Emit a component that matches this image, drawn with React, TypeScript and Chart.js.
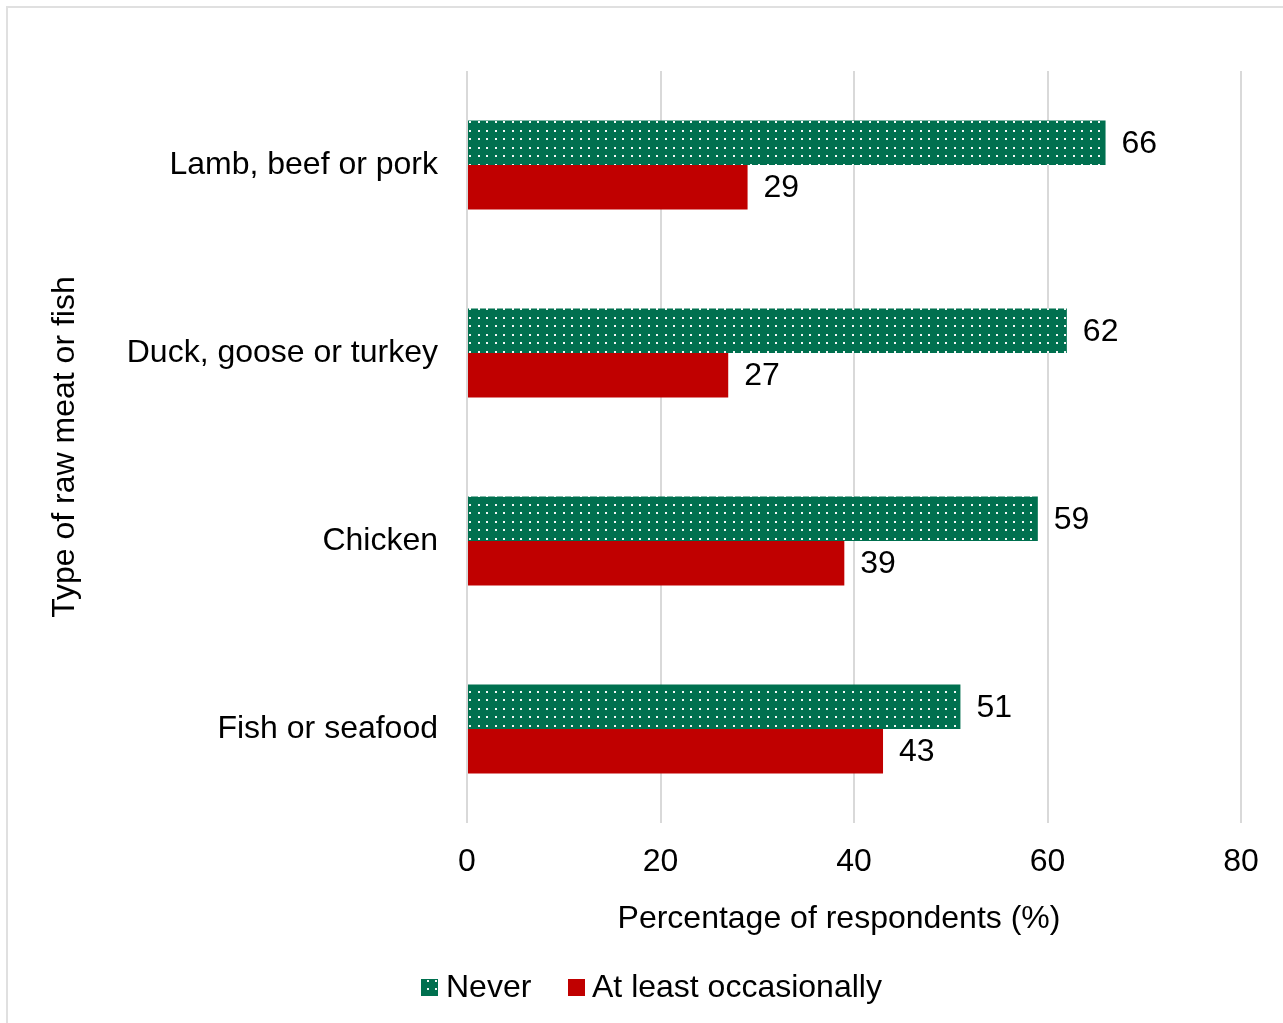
import React, { useEffect, useRef } from "react";
import { Chart, registerables } from "chart.js";

Chart.register(...registerables);

const categories = ["Lamb, beef or pork", "Duck, goose or turkey", "Chicken", "Fish or seafood"];
const neverValues = [66, 62, 59, 51];
const occasionalValues = [29, 27, 39, 43];
const seriesNames = ["Never", "At least occasionally"];
const xTicks = [0, 20, 40, 60, 80];
const xTitle = "Percentage of respondents (%)";
const yTitle = "Type of raw meat or fish";

const GREEN = "#00704F";
const RED = "#C00000";
const FONT = "'Liberation Sans', Arial, sans-serif";
const FS = 32;

function makePattern(ctx: CanvasRenderingContext2D): CanvasPattern | string {
  const c = document.createElement("canvas");
  c.width = 17;
  c.height = 17;
  const p = c.getContext("2d");
  if (!p) return GREEN;
  p.fillStyle = GREEN;
  p.fillRect(0, 0, 17, 17);
  p.fillStyle = "rgba(255,255,255,0.95)";
  const dots = [
    [2, 2],
    [10, 2],
    [2, 11],
    [10, 11],
  ];
  dots.forEach(([x, y]) => p.fillRect(x, y, 2, 2));
  return ctx.createPattern(c, "repeat") || GREEN;
}

export default function App() {
  const ref = useRef<HTMLCanvasElement | null>(null);

  useEffect(() => {
    const canvas = ref.current;
    if (!canvas) return;
    const ctx = canvas.getContext("2d");
    if (!ctx) return;
    const pattern = makePattern(ctx);

    const extras = {
      id: "extras",
      afterDatasetsDraw(chart: any) {
        const c = chart.ctx;
        c.save();
        c.font = `${FS}px ${FONT}`;
        c.fillStyle = "#000";
        c.textAlign = "left";
        c.textBaseline = "middle";
        chart.data.datasets.forEach((ds: any, di: number) => {
          const meta = chart.getDatasetMeta(di);
          meta.data.forEach((el: any, i: number) => {
            c.fillText(String(ds.data[i]), el.x + 16, el.y + 1);
          });
        });
        c.restore();
      },
      afterDraw(chart: any) {
        const c = chart.ctx;
        c.save();
        c.font = `${FS}px ${FONT}`;
        c.fillStyle = "#000";
        c.textBaseline = "middle";
        // x title
        c.textAlign = "center";
        c.fillText(xTitle, 839, 919);
        // y title
        c.save();
        c.translate(65, 447);
        c.rotate(-Math.PI / 2);
        c.fillText(yTitle, 0, 0);
        c.restore();
        // legend
        c.textAlign = "left";
        c.fillStyle = pattern as any;
        c.fillRect(421, 979, 17, 17);
        c.fillStyle = "#000";
        c.fillText(seriesNames[0], 446, 988);
        c.fillStyle = RED;
        c.fillRect(568, 979, 17, 17);
        c.fillStyle = "#000";
        c.fillText(seriesNames[1], 592, 988);
        c.restore();
      },
    };

    const chart = new Chart(ctx, {
      type: "bar",
      data: {
        labels: categories,
        datasets: [
          {
            label: seriesNames[0],
            data: neverValues,
            backgroundColor: pattern as any,
            borderWidth: 0,
            categoryPercentage: 0.474,
            barPercentage: 1,
          },
          {
            label: seriesNames[1],
            data: occasionalValues,
            backgroundColor: RED,
            borderWidth: 0,
            categoryPercentage: 0.474,
            barPercentage: 1,
          },
        ],
      },
      options: {
        indexAxis: "y",
        animation: false,
        responsive: false,
        maintainAspectRatio: false,
        layout: { padding: { left: 0, right: 42, top: 71, bottom: 0 } },
        plugins: {
          legend: { display: false },
          tooltip: { enabled: false },
        },
        scales: {
          x: {
            min: 0,
            max: 80,
            afterBuildTicks(scale: any) {
              scale.ticks = xTicks.map((v) => ({ value: v }));
            },
            afterFit(scale: any) {
              scale.height = 200;
            },
            grid: { color: "#d9d9d9", lineWidth: 2, drawTicks: false },
            border: { display: false },
            ticks: {
              padding: 20,
              color: "#000",
              font: { family: FONT, size: FS },
            },
          },
          y: {
            afterFit(scale: any) {
              scale.width = 467;
            },
            grid: { display: false, drawTicks: false },
            border: { display: false },
            ticks: {
              padding: 29,
              color: "#000",
              font: { family: FONT, size: FS },
            },
          },
        },
      },
      plugins: [extras],
    });

    return () => chart.destroy();
  }, []);

  return (
    <div
      style={{
        position: "fixed",
        left: 0,
        top: 0,
        width: 1283,
        height: 1023,
        overflow: "hidden",
        background: "#fff",
      }}
    >
      <div
        style={{
          position: "absolute",
          left: 6,
          top: 6,
          width: 1320,
          height: 1060,
          border: "2px solid #e0e0e0",
        }}
      />
      <canvas
        ref={ref}
        width={1283}
        height={1023}
        style={{ position: "absolute", left: 0, top: 0, width: 1283, height: 1023 }}
      />
    </div>
  );
}
